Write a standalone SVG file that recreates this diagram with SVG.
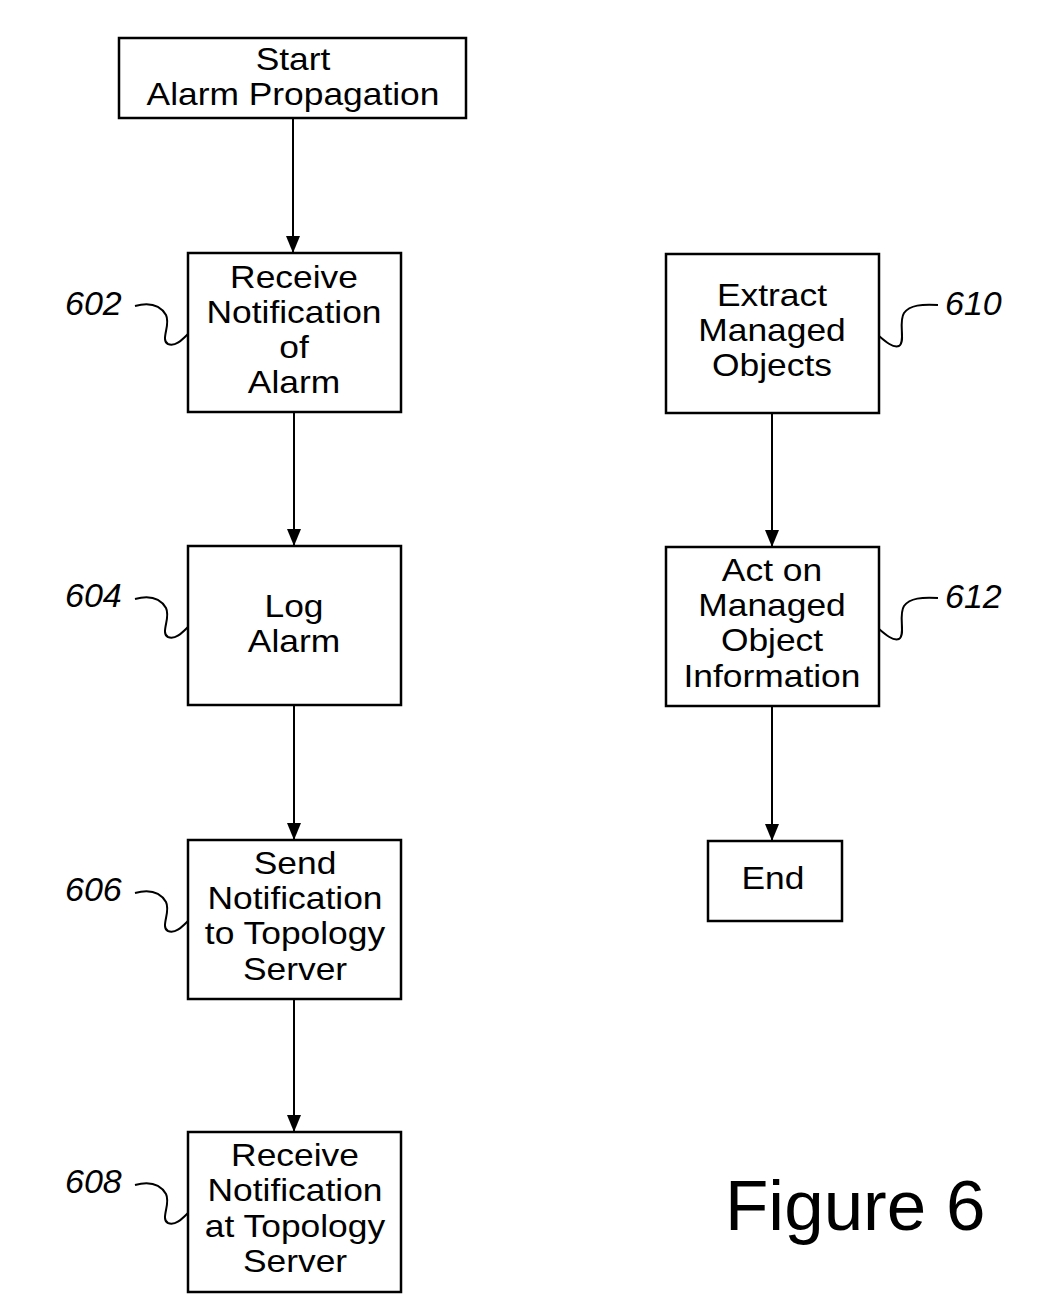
<svg xmlns="http://www.w3.org/2000/svg" width="1039" height="1316" viewBox="0 0 1039 1316">
<defs>
<style>
.box{fill:#fff;stroke:#000;stroke-width:2.5}
.t{font-family:"Liberation Sans",Arial,sans-serif;font-size:30.5px;text-anchor:middle;fill:#000}
.lbl{font-family:"Liberation Sans",Arial,sans-serif;font-size:34px;font-style:italic;fill:#000}
.sq{fill:none;stroke:#000;stroke-width:2}
.c{fill:none;stroke:#000;stroke-width:2}
</style>
<marker id="arr" markerWidth="17" markerHeight="14" refX="17" refY="7" orient="auto" markerUnits="userSpaceOnUse" viewBox="0 0 17 14">
<path d="M0,0 L17,7 L0,14 Z" fill="#000"/>
</marker>
</defs>
<rect width="1039" height="1316" fill="#fff"/>
<g id="connectors">
<line class="c" x1="293" y1="118" x2="293" y2="253" marker-end="url(#arr)"/>
<line class="c" x1="294" y1="412" x2="294" y2="546" marker-end="url(#arr)"/>
<line class="c" x1="294" y1="705" x2="294" y2="840" marker-end="url(#arr)"/>
<line class="c" x1="294" y1="999" x2="294" y2="1132" marker-end="url(#arr)"/>
<line class="c" x1="772" y1="413" x2="772" y2="547" marker-end="url(#arr)"/>
<line class="c" x1="772" y1="706" x2="772" y2="841" marker-end="url(#arr)"/>
</g>
<g id="start">
<rect class="box" x="119" y="38" width="347" height="80"/>
<g transform="translate(293 0) scale(1.16 1)">
<text class="t" x="0" y="70">Start</text>
<text class="t" x="0" y="105">Alarm Propagation</text>
</g>
</g>
<g id="n602">
<rect class="box" x="188" y="253" width="213" height="159"/>
<g transform="translate(294 0) scale(1.16 1)">
<text class="t" x="0" y="288">Receive</text>
<text class="t" x="0" y="323">Notification</text>
<text class="t" x="0" y="358">of</text>
<text class="t" x="0" y="393">Alarm</text>
</g>
<text class="lbl" x="65" y="315">602</text>
<path class="sq" d="M135,306 C150,302 160,305 166,315 C171,325 160,340 168,344 C175,347 182,340 188,334"/>
</g>
<g id="n604">
<rect class="box" x="188" y="546" width="213" height="159"/>
<g transform="translate(294 0) scale(1.16 1)">
<text class="t" x="0" y="617">Log</text>
<text class="t" x="0" y="652">Alarm</text>
</g>
<text class="lbl" x="65" y="607">604</text>
<path class="sq" d="M135,599 C150,595 160,598 166,608 C171,618 160,633 168,637 C175,640 182,633 188,627"/>
</g>
<g id="n606">
<rect class="box" x="188" y="840" width="213" height="159"/>
<g transform="translate(295 0) scale(1.16 1)">
<text class="t" x="0" y="874">Send</text>
<text class="t" x="0" y="909">Notification</text>
<text class="t" x="0" y="944">to Topology</text>
<text class="t" x="0" y="980">Server</text>
</g>
<text class="lbl" x="65" y="901">606</text>
<path class="sq" d="M135,893 C150,889 160,892 166,902 C171,912 160,927 168,931 C175,934 182,927 188,921"/>
</g>
<g id="n608">
<rect class="box" x="188" y="1132" width="213" height="160"/>
<g transform="translate(295 0) scale(1.16 1)">
<text class="t" x="0" y="1166">Receive</text>
<text class="t" x="0" y="1201">Notification</text>
<text class="t" x="0" y="1237">at Topology</text>
<text class="t" x="0" y="1272">Server</text>
</g>
<text class="lbl" x="65" y="1193">608</text>
<path class="sq" d="M135,1185 C150,1181 160,1184 166,1194 C171,1204 160,1219 168,1223 C175,1226 182,1219 188,1213"/>
</g>
<g id="n610">
<rect class="box" x="666" y="254" width="213" height="159"/>
<g transform="translate(772 0) scale(1.16 1)">
<text class="t" x="0" y="306">Extract</text>
<text class="t" x="0" y="341">Managed</text>
<text class="t" x="0" y="376">Objects</text>
</g>
<text class="lbl" x="945" y="315">610</text>
<path class="sq" d="M879,336 C886,342 893,348 899,346 C906,342 898,322 904,313 C910,305 922,304 938,305"/>
</g>
<g id="n612">
<rect class="box" x="666" y="547" width="213" height="159"/>
<g transform="translate(772 0) scale(1.16 1)">
<text class="t" x="0" y="581">Act on</text>
<text class="t" x="0" y="616">Managed</text>
<text class="t" x="0" y="651">Object</text>
<text class="t" x="0" y="687">Information</text>
</g>
<text class="lbl" x="945" y="608">612</text>
<path class="sq" d="M879,629 C886,635 893,641 899,639 C906,635 898,615 904,606 C910,598 922,597 938,598"/>
</g>
<g id="end">
<rect class="box" x="708" y="841" width="134" height="80"/>
<g transform="translate(773 0) scale(1.16 1)">
<text class="t" x="0" y="889">End</text>
</g>
</g>
<text x="725" y="1230" font-family="'Liberation Sans',Arial,sans-serif" font-size="71">Figure 6</text>
</svg>
